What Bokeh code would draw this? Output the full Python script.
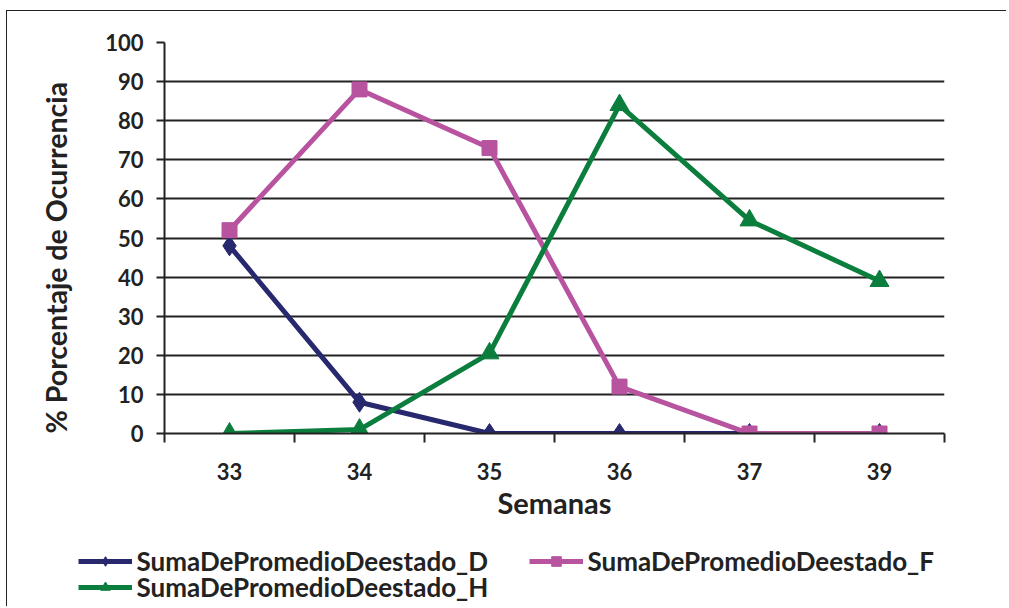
from bokeh.plotting import figure
from bokeh.models import FixedTicker, Legend, LegendItem, Range1d, Title
from bokeh.embed import file_html
from bokeh.resources import INLINE

semanas = ["33", "34", "35", "36", "37", "39"]
estado_D = [48, 8, 0, 0, 0, 0]
estado_F = [52, 88, 73, 12, 0, 0]
estado_H = [0, 1, 20.5, 84, 54.5, 39]
y_ticks = [0, 10, 20, 30, 40, 50, 60, 70, 80, 90, 100]

names = ["SumaDePromedioDeestado_D", "SumaDePromedioDeestado_F", "SumaDePromedioDeestado_H"]
colors = ["#28286f", "#b8549f", "#0b7e3d"]
markers = ["diamond", "square", "triangle"]
msizes = [20, 15, 19]

FONT = "Lato"
TXT = "#222222"
LW = 5

xs = [i + 0.5 for i in range(len(semanas))]
series = [estado_D, estado_F, estado_H]

p = figure(width=1000, height=524, output_backend="svg", toolbar_location=None,
           x_range=Range1d(0, len(semanas)), y_range=Range1d(0, 100),
           min_border_left=156, min_border_right=63, min_border_top=31, min_border_bottom=102)
p.outline_line_color = None
p.styles = {"border-top": "1.5px solid #222", "border-left": "1.5px solid #222",
            "margin-top": "10px", "margin-left": "6px"}

for vals, c, m, s in zip(series, colors, markers, msizes):
    p.line(xs, vals, line_color=c, line_width=LW)
    p.scatter(xs, vals, marker=m, size=s, fill_color=c, line_color=c)

# x axis
p.xaxis.ticker = FixedTicker(ticks=xs, minor_ticks=list(range(len(semanas) + 1)))
p.xaxis.major_label_overrides = {x: s for x, s in zip(xs, semanas)}
p.xaxis.major_tick_line_color = None
p.xaxis.major_tick_out = 8
p.xaxis.major_tick_in = 0
p.xaxis.minor_tick_line_color = "#222"
p.xaxis.minor_tick_line_width = 2
p.xaxis.minor_tick_out = 9
p.xaxis.minor_tick_in = 0
p.xaxis.major_label_standoff = 20
p.xaxis.axis_label = "Semanas"
p.xaxis.axis_label_standoff = 2

# y axis
p.yaxis.ticker = FixedTicker(ticks=y_ticks, minor_ticks=[])
p.yaxis.major_tick_line_color = "#222"
p.yaxis.major_tick_line_width = 2
p.yaxis.major_tick_out = 8
p.yaxis.major_tick_in = 0
p.yaxis.minor_tick_line_color = None
p.yaxis.major_label_standoff = 13

for ax in [p.xaxis, p.yaxis]:
    ax.axis_line_color = "#222"
    ax.axis_line_width = 2
    ax.major_label_text_font = FONT
    ax.major_label_text_font_style = "bold"
    ax.major_label_text_font_size = "22px"
    ax.major_label_text_color = TXT
    ax.axis_label_text_font = FONT
    ax.axis_label_text_font_style = "bold"
    ax.axis_label_text_font_size = "29px"
    ax.axis_label_text_color = TXT

ytitle = Title(text="% Porcentaje de Ocurrencia", align="left", offset=0,
               text_font=FONT, text_font_style="bold", text_font_size="28.5px",
               text_color=TXT, standoff=59)
p.add_layout(ytitle, "left")

p.xgrid.grid_line_color = None
p.ygrid.ticker = FixedTicker(ticks=y_ticks)
p.ygrid.grid_line_color = "#222"
p.ygrid.grid_line_width = 2

# legend strip (its renderers lie outside its ranges; only the legend shows)
p2 = figure(width=1000, height=72, output_backend="svg", toolbar_location=None,
            x_range=Range1d(100, 101), y_range=Range1d(1000, 1001),
            x_axis_type=None, y_axis_type=None, min_border=0)
p2.outline_line_color = None
p2.grid.visible = False
p2.styles = {"border-left": "1.5px solid #222", "margin-left": "6px"}
leg_r = []
for vals, c, m, s in zip(series, colors, markers, msizes):
    l = p2.line(xs, vals, line_color=c, line_width=LW)
    sc = p2.scatter(xs, vals, marker=m, size=s, fill_color=c, line_color=c)
    leg_r.append([l, sc])

def mk_legend(i, loc):
    lg = Legend(items=[LegendItem(label=names[i], renderers=leg_r[i])], location=loc,
                label_text_font=FONT, label_text_font_style="bold",
                label_text_font_size="26px", label_text_color=TXT,
                glyph_width=54, glyph_height=24, spacing=0, padding=0, margin=0,
                label_standoff=5, background_fill_alpha=0, border_line_color=None,
                label_height=24)
    p2.add_layout(lg, "center")

mk_legend(0, (70.5, 29.5))
mk_legend(2, (70.5, 3.5))
mk_legend(1, (521.5, 29.5))

open("out.html", "w").write(file_html([p, p2], INLINE))
